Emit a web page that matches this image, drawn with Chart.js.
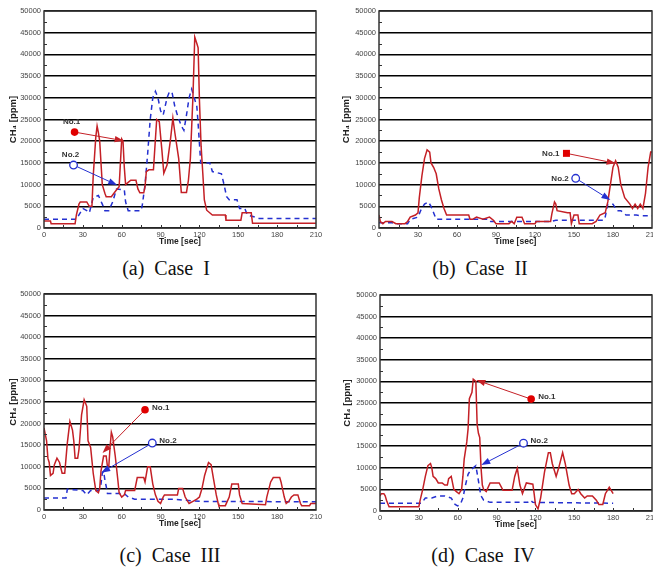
<!DOCTYPE html>
<html>
<head>
<meta charset="utf-8">
<script src="https://cdn.jsdelivr.net/npm/chart.js@4.4.1/dist/chart.umd.min.js"></script>
<style>
  body { margin: 0; background: #fff; width: 653px; height: 573px; position: relative; overflow: hidden; }
  canvas { position: absolute; }
  .cap { position: absolute; font-family: "Liberation Serif", "Times New Roman", serif; font-size: 20px; line-height: 20px; white-space: pre; color: #111; transform: translateX(-50%); }
</style>
</head>
<body>
<canvas id="caseI" width="330" height="250" style="left:0;top:0"></canvas>
<canvas id="caseII" width="318" height="250" style="left:335px;top:0"></canvas>
<canvas id="caseIII" width="330" height="252" style="left:0;top:280px"></canvas>
<canvas id="caseIV" width="317" height="253" style="left:336px;top:280px"></canvas>
<div class="cap" style="left:166px;top:258px">(a)  Case  I</div>
<div class="cap" style="left:480px;top:258px">(b)  Case  II</div>
<div class="cap" style="left:170px;top:545px">(c)  Case  III</div>
<div class="cap" style="left:483px;top:545px">(d)  Case  IV</div>
<script>
// =========================
// DATA (time in sec, CH4 in ppm)
// =========================

var caseI_no1_t = [0, 5, 5.5, 24, 25, 27, 28, 33, 35, 37, 38, 40, 41, 42, 43, 45, 47, 48, 52, 55, 58, 59, 60, 61, 62, 63, 65, 67, 71, 72.5, 74, 77, 78, 79, 81, 84.5, 87, 89, 91, 92.5, 95, 97.5, 99.5, 101, 104, 106, 110, 111.5, 113, 115, 116.4, 118, 119, 120, 121.3, 122.6, 123.8, 125.6, 130, 140, 140.5, 152, 153, 160, 161, 210];
var caseI_no1_ppm = [1600, 1600, 1000, 1000, 3000, 5500, 6000, 6000, 5000, 5000, 12000, 21000, 23500, 22000, 20000, 10000, 8000, 7200, 7200, 8400, 9500, 15000, 20500, 20000, 14000, 10000, 10500, 11000, 11000, 9000, 8100, 8100, 9500, 13000, 13400, 13400, 25000, 24500, 18000, 12600, 14500, 20000, 25300, 22000, 16000, 8200, 8200, 11000, 16000, 30300, 44000, 42500, 41500, 29500, 18800, 12600, 6500, 4100, 3000, 3000, 1800, 1800, 3500, 3500, 1100, 1100];
var caseI_no2_t = [0, 25, 27, 30, 33, 35, 38, 42, 45, 47, 50, 53, 56, 62, 63, 65, 75, 76, 78, 80, 82, 84, 86, 88, 90, 92, 95, 97, 99, 101, 103, 106, 108, 110, 112, 114, 116, 118, 119, 121, 128, 130, 137, 139, 141, 143, 149, 151, 155, 157, 162, 166, 210];
var caseI_no2_ppm = [2000, 2000, 3000, 4500, 4000, 3500, 7000, 7500, 5500, 4000, 4000, 6000, 9000, 8800, 6000, 4000, 4000, 5500, 10000, 17000, 25000, 30000, 31500, 30000, 27000, 26000, 30000, 31500, 31000, 28000, 26000, 23500, 22500, 26000, 30000, 32000, 30000, 28000, 24000, 15000, 15000, 13000, 12500, 10000, 7200, 6500, 6500, 4500, 4500, 3000, 2600, 2200, 2200];

var caseII_no1_t = [0, 1, 3, 5, 10, 13, 20, 22, 24, 28, 30, 31, 33, 35, 37, 39, 40, 42, 44, 46, 48, 50, 52, 69, 70, 72, 75, 80, 85, 88, 90, 100, 102, 104, 106, 110, 112, 120, 121, 132, 133, 135, 136, 137, 145, 147, 148, 150, 153, 154, 164, 167, 170, 174, 176, 178, 180, 182, 184, 186, 189, 193, 195, 197, 199, 201, 203, 205, 207, 209, 210];
var caseII_no1_ppm = [3000, 1500, 1000, 1500, 1500, 1000, 1000, 1500, 2500, 3000, 3500, 7000, 12000, 16000, 18000, 17500, 15000, 14000, 12500, 9000, 6500, 4500, 3000, 3000, 2000, 2000, 2500, 2000, 2500, 1800, 1000, 1000, 1500, 1000, 2500, 2500, 1000, 1000, 1500, 1500, 3300, 6000, 5500, 4000, 3500, 3500, 1000, 3000, 3000, 1000, 1000, 1500, 3000, 3500, 6000, 10000, 14000, 15500, 14000, 10000, 7000, 5500, 4500, 5500, 4500, 5500, 4500, 8000, 14000, 17500, 17500];
var caseII_no2_t = [0, 10, 13, 22, 24, 30, 32, 35, 38, 40, 42, 44, 85, 86, 132, 136, 173, 174, 176, 180, 183, 186, 190, 198, 201, 210];
var caseII_no2_ppm = [1200, 1200, 1000, 1000, 2000, 2500, 4000, 5500, 6000, 5000, 3500, 2000, 2000, 1500, 1500, 1800, 1800, 2500, 5500, 5500, 4000, 4000, 3000, 3000, 2800, 2800];

var caseIII_no1_t = [0, 1, 2, 3, 4, 5, 7, 8, 10, 12, 14, 16, 17, 18, 20, 22, 23, 24, 26, 27, 29, 31, 33, 34, 36, 38, 40, 42, 43, 44, 46, 48, 49, 50, 51, 52, 53, 55, 57, 58, 60, 62, 63, 70, 72, 77, 78, 80, 82, 84, 86, 88, 90, 92, 93, 103, 104, 107, 109, 112, 115, 118, 120, 122, 124, 127, 129, 131, 133, 134.5, 135, 140, 143, 145, 150, 151, 153, 171, 172, 175, 177, 182, 183, 185.5, 187, 189, 191, 193, 196, 198, 199, 205, 206, 210];
var caseIII_no1_ppm = [19000, 17500, 16000, 12000, 11000, 8000, 8500, 10500, 12000, 11000, 8500, 8500, 12000, 15500, 20500, 18500, 16000, 12000, 12000, 14000, 22000, 25500, 24000, 16000, 14500, 8500, 4500, 4000, 5000, 9000, 12500, 12500, 10000, 10000, 14500, 18000, 17000, 12500, 7000, 4000, 3000, 3500, 4500, 4500, 7500, 7500, 6500, 10000, 10000, 6000, 3500, 2000, 1500, 3000, 3500, 3500, 5000, 5000, 3000, 1500, 2000, 2500, 3000, 5000, 8000, 11000, 10500, 7000, 3500, 1500, 1000, 1000, 3000, 6000, 6000, 3500, 1500, 1200, 3000, 6500, 7500, 7500, 6500, 3000, 1500, 2000, 3000, 3500, 3500, 1500, 1000, 1000, 1500, 1500];
var caseIII_no2_t = [0, 17, 18, 30, 33, 36, 42, 43, 44, 45, 46, 47, 48, 49, 62, 65, 70, 100, 120, 210];
var caseIII_no2_ppm = [2800, 2800, 4800, 4500, 3500, 4500, 4500, 5000, 6000, 8500, 9000, 7000, 5500, 3800, 3800, 3000, 2500, 2500, 2000, 1900];

var caseIV_no1_t = [0, 1, 3, 4, 5, 7, 30, 31, 33, 35, 37, 39, 40, 41, 43, 45, 48, 50, 52, 53, 55, 56, 57, 59, 61, 63, 64, 65, 67, 68, 69, 71, 72, 74, 75, 76, 77, 78, 79, 80, 82, 85, 92, 95, 102, 104, 106, 108, 110, 113, 118, 119, 120, 122, 124, 127, 130, 131.5, 133, 136, 138, 141, 143, 146, 148, 150, 153, 155, 158, 160, 164, 167, 169, 172, 174, 177, 178, 180];
var caseIV_no1_ppm = [3500, 4000, 4000, 3500, 2500, 1000, 1000, 2500, 5000, 8000, 10500, 11000, 10000, 8000, 7500, 6500, 6500, 6000, 6000, 7500, 8000, 6500, 5000, 4500, 4000, 5000, 8000, 12000, 16000, 19000, 26000, 27500, 30500, 30000, 20000, 18000, 17000, 10000, 6000, 5000, 4500, 6500, 6500, 4800, 4800, 8000, 9900, 6000, 4000, 6500, 6200, 4000, 1500, 500, 3000, 9000, 13500, 13500, 11000, 8000, 10000, 13500, 11000, 6000, 4000, 4000, 5000, 4000, 3000, 3500, 3500, 2500, 1500, 1500, 4000, 5500, 5000, 4000];
var caseIV_no2_t = [0, 32, 35, 40, 45, 50, 55, 58, 60, 62, 64, 66, 68, 70, 72, 74, 76, 77, 78, 80, 85, 114, 116, 118, 180];
var caseIV_no2_ppm = [1800, 1800, 3000, 3000, 3500, 3500, 3000, 1500, 1200, 1500, 3000, 6000, 8500, 9500, 10000, 10500, 7000, 5000, 3500, 2500, 2000, 2000, 2500, 2000, 1800];

var timeMax = 210;
var timeStep = 30;
var ppmMax = 50000;
var ppmStep = 5000;

// =========================
// HELPERS
// =========================

var RED = "#c42026";
var BLUE = "#2430d0";
var SANS = '"Liberation Sans", Arial, sans-serif';

function toPoints(ts, vs) {
  return ts.map(function (t, i) {
    return { x: t, y: vs[i] };
  });
}

function drawNote(ctx, xs, ys, n) {
  var mx = xs.getPixelForValue(n.at[0]);
  var my = ys.getPixelForValue(n.at[1]);
  var tx = xs.getPixelForValue(n.to[0]);
  var ty = ys.getPixelForValue(n.to[1]);
  var ang = Math.atan2(ty - my, tx - mx);
  var hl = 9, hw = 3.2;
  var bx = tx - hl * Math.cos(ang);
  var by = ty - hl * Math.sin(ang);

  ctx.strokeStyle = n.color;
  ctx.fillStyle = n.color;
  ctx.lineWidth = 1;
  ctx.setLineDash([]);
  ctx.beginPath();
  ctx.moveTo(mx, my);
  ctx.lineTo(bx, by);
  ctx.stroke();
  ctx.beginPath();
  ctx.moveTo(tx, ty);
  ctx.lineTo(bx - hw * Math.sin(ang), by + hw * Math.cos(ang));
  ctx.lineTo(bx + hw * Math.sin(ang), by - hw * Math.cos(ang));
  ctx.closePath();
  ctx.fill();

  // marker
  ctx.lineWidth = 1.3;
  ctx.beginPath();
  if (n.shape === "square") {
    ctx.rect(mx - 3.5, my - 3.5, 7, 7);
  } else {
    ctx.arc(mx, my, 3.8, 0, Math.PI * 2);
  }
  if (n.filled) {
    ctx.fillStyle = n.fill;
    ctx.fill();
  } else {
    ctx.fillStyle = "#fff";
    ctx.fill();
    ctx.stroke();
  }

  // label
  ctx.font = "bold 8px " + SANS;
  ctx.fillStyle = "#333";
  ctx.textBaseline = "middle";
  if (n.side === "above") {
    ctx.textAlign = "center";
    ctx.fillText(n.label, mx - 3, my - 10);
  } else if (n.side === "left") {
    ctx.textAlign = "right";
    ctx.fillText(n.label, mx - 7, my);
  } else {
    ctx.textAlign = "left";
    ctx.fillText(n.label, mx + 7, my - 2);
  }
}

function decorPlugin(notes) {
  return {
    id: "decor",
    afterDatasetsDraw: function (chart) {
      var ctx = chart.ctx;
      var a = chart.chartArea;
      var xs = chart.scales.x;
      var ys = chart.scales.y;
      ctx.save();

      // minor ticks
      ctx.strokeStyle = "#333";
      ctx.lineWidth = 1;
      ctx.beginPath();
      for (var v = ppmStep / 2; v < ppmMax; v += ppmStep) {
        var y = Math.round(ys.getPixelForValue(v)) + 0.5;
        ctx.moveTo(a.left, y);
        ctx.lineTo(a.left + 3, y);
      }
      for (var t = timeStep / 2; t < timeMax; t += timeStep / 2) {
        var x = Math.round(xs.getPixelForValue(t)) + 0.5;
        ctx.moveTo(x, a.bottom);
        ctx.lineTo(x, a.bottom - 3);
      }
      ctx.stroke();

      // frame
      ctx.strokeStyle = "#333";
      ctx.lineWidth = 1.5;
      ctx.strokeRect(a.left, a.top, a.right - a.left, a.bottom - a.top);

      notes.forEach(function (n) {
        drawNote(ctx, xs, ys, n);
      });
      ctx.restore();
    },
  };
}

function makeChart(id, t1, v1, t2, v2, notes, pad, titlePad) {
  var canvas = document.getElementById(id);
  if (!canvas) return;

  var data = {
    datasets: [
      {
        label: "No.1",
        data: toPoints(t1, v1),
        borderColor: RED,
        borderWidth: 1.5,
        pointRadius: 0,
        tension: 0,
      },
      {
        label: "No.2",
        data: toPoints(t2, v2),
        borderColor: BLUE,
        borderWidth: 1.5,
        borderDash: [5, 4],
        pointRadius: 0,
        tension: 0,
      },
    ],
  };

  var options = {
    responsive: false,
    animation: false,
    layout: { padding: pad },
    plugins: {
      legend: { display: false },
      tooltip: { enabled: false },
    },
    scales: {
      x: {
        type: "linear",
        min: 0,
        max: timeMax,
        grid: { display: false, drawTicks: false },
        border: { display: false },
        ticks: {
          stepSize: timeStep,
          autoSkip: false,
          maxRotation: 0,
          padding: 2,
          color: "#444",
          font: { family: SANS, size: 7.5 },
        },
        title: {
          display: true,
          text: "Time [sec]",
          color: "#222",
          font: { family: SANS, size: 8.5, weight: "bold" },
          padding: { top: 0, bottom: 3 },
        },
        afterFit: function (s) {
          s.height = 22;
          s.paddingLeft = 0;
          s.paddingRight = 0;
        },
      },
      y: {
        min: 0,
        max: ppmMax,
        grid: { color: "#000", lineWidth: 1.5, drawTicks: false },
        border: { display: false },
        ticks: {
          stepSize: ppmStep,
          autoSkip: false,
          padding: 3,
          color: "#444",
          font: { family: SANS, size: 7.5 },
          callback: function (v) {
            return String(v);
          },
        },
        title: {
          display: true,
          text: "CH\u2084 [ppm]",
          color: "#222",
          font: { family: SANS, size: 9.5, weight: "bold" },
          padding: { top: titlePad, bottom: 0 },
        },
        afterFit: function (s) {
          s.width = 44;
          s.paddingTop = 0;
          s.paddingBottom = 0;
        },
      },
    },
  };

  new Chart(canvas, {
    type: "line",
    data: data,
    options: options,
    plugins: [decorPlugin(notes)],
  });
}

// =========================
// CASE I
// =========================

makeChart("caseI", caseI_no1_t, caseI_no1_ppm, caseI_no2_t, caseI_no2_ppm, [
  { label: "No.1", at: [23.6, 22100], to: [61.5, 20100], color: RED, fill: "#e00000", filled: true, shape: "circle", side: "above" },
  { label: "No.2", at: [22.8, 14500], to: [56.5, 9900], color: BLUE, filled: false, shape: "circle", side: "above" },
], { top: 11, right: 14, bottom: 0, left: 0 }, 8);

// =========================
// CASE II
// =========================

makeChart("caseII", caseII_no1_t, caseII_no1_ppm, caseII_no2_t, caseII_no2_ppm, [
  { label: "No.1", at: [144.2, 17200], to: [182, 14900], color: RED, fill: "#e00000", filled: true, shape: "square", side: "left" },
  { label: "No.2", at: [151.3, 11450], to: [178, 6450], color: BLUE, filled: false, shape: "circle", side: "left" },
], { top: 11, right: 1, bottom: 0, left: 0 }, 6);

// =========================
// CASE III
// =========================

makeChart("caseIII", caseIII_no1_t, caseIII_no1_ppm, caseIII_no2_t, caseIII_no2_ppm, [
  { label: "No.1", at: [78, 23200], to: [45.2, 13200], color: RED, fill: "#e00000", filled: true, shape: "circle", side: "right" },
  { label: "No.2", at: [83.6, 15500], to: [44.2, 8650], color: BLUE, filled: false, shape: "circle", side: "right" },
], { top: 14, right: 14, bottom: 0, left: 0 }, 7.5);

// =========================
// CASE IV
// =========================

makeChart("caseIV", caseIV_no1_t, caseIV_no1_ppm, caseIV_no2_t, caseIV_no2_ppm, [
  { label: "No.1", at: [116.7, 25900], to: [74.4, 30300], color: RED, fill: "#e00000", filled: true, shape: "circle", side: "right" },
  { label: "No.2", at: [110.8, 15700], to: [78.2, 10650], color: BLUE, filled: false, shape: "circle", side: "right" },
], { top: 15, right: 1, bottom: 0, left: 0 }, 5.5);
</script>
</body>
</html>
